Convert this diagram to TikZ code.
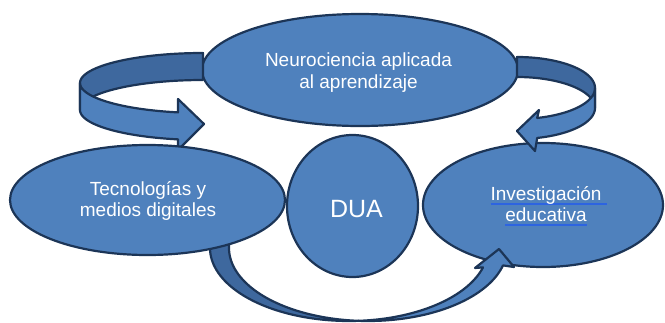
\documentclass[tikz,border=0pt]{standalone}
\usepackage{fontspec}
\setmainfont{Liberation Sans}
\usetikzlibrary{shapes.geometric}
\definecolor{fillblue}{RGB}{79,129,189}
\definecolor{darkblue}{RGB}{62,104,158}
\definecolor{edgeblue}{RGB}{28,53,87}
\definecolor{ulblue}{RGB}{45,100,225}
\newsavebox\myulbox
\newcommand{\myul}[1]{\sbox\myulbox{#1\ }\rlap{\color{ulblue}\rule[-4.3pt]{\wd\myulbox}{1.8pt}}#1}
\newcommand{\myulnosp}[1]{\sbox\myulbox{#1}\rlap{\color{ulblue}\rule[-4.3pt]{\wd\myulbox}{1.8pt}}#1}
\begin{document}
\begin{tikzpicture}[x=1pt,y=-1pt,
  bubble/.style={ellipse, draw=edgeblue, fill=fillblue, line width=2.2pt, inner sep=0pt},
  labeltext/.style={align=center, text=white, inner sep=0pt, font=\fontsize{19}{21.5}\selectfont},
  ribbonback/.style={fill=darkblue, draw=edgeblue, line width=2.2pt, line join=round},
  ribbonfront/.style={fill=fillblue, draw=edgeblue, line width=2.2pt, line join=round}]
\useasboundingbox (0,0) rectangle (665,322);
% ellipses behind the arrows
\node[bubble, minimum width=316pt, minimum height=112pt] (neuro) at (360,70) {};
\node[bubble, minimum width=240pt, minimum height=124pt] (invest) at (543,205) {};
\node[bubble, minimum width=131pt, minimum height=142pt] (dua) at (352.5,206) {};
% top-left curved arrow
\draw[ribbonback] plot[domain=270:180,samples=40] ({203+123*cos(\x)},{83+30*sin(\x)})
  -- plot[domain=180:270,samples=40] ({203+123*cos(\x)},{110+30*sin(\x)}) -- cycle;
\draw[ribbonfront] plot[domain=180:101.7,samples=40] ({203+123*cos(\x)},{83+30*sin(\x)})
  -- (178,99) -- (204,124) -- (178,150)
  -- plot[domain=101.7:180,samples=40] ({203+123*cos(\x)},{110+30*sin(\x)}) -- cycle;
% top-right curved arrow
\draw[ribbonback] plot[domain=270:360,samples=40] ({517+78*cos(\x)},{88+31*sin(\x)})
  -- plot[domain=360:270,samples=40] ({517+78*cos(\x)},{108+31*sin(\x)}) -- cycle;
\draw[ribbonfront] plot[domain=0:75,samples=40] ({517+78*cos(\x)},{88+31*sin(\x)})
  -- (539,110) -- (517,131) -- (535,151)
  -- plot[domain=75:0,samples=40] ({517+78*cos(\x)},{108+31*sin(\x)}) -- cycle;
% bottom curved arrow
\draw[ribbonback] plot[domain=190:86.1,samples=50] ({349+139*cos(\x)},{248+73*sin(\x)})
  -- plot[domain=93.9:190,samples=50] ({368+139*cos(\x)},{248+73*sin(\x)}) -- cycle;
\draw[ribbonfront] plot[domain=93.9:13.8,samples=50] ({368+139*cos(\x)},{248+73*sin(\x)})
  -- (514,267) -- (499,249) -- (475,268)
  -- plot[domain=15.4:86.1,samples=50] ({349+139*cos(\x)},{248+73*sin(\x)}) -- cycle;
% left ellipse on top of the arrow starts
\node[bubble, minimum width=275pt, minimum height=110pt] (tecno) at (147.5,200) {};
% texts
\node[labeltext] (neurotext) at (358.5,72.5) {Neurociencia aplicada\\al aprendizaje};
\node[labeltext] (tecnotext) at (148,201) {Tecnologías y\\medios digitales};
\node[labeltext] (investtext) at (546,206.2) {\myul{Investigación}\\\myulnosp{educativa}};
\node[labeltext, font=\fontsize{25}{30}\selectfont] (duatext) at (356.5,209.5) {DUA};
\end{tikzpicture}
\end{document}
